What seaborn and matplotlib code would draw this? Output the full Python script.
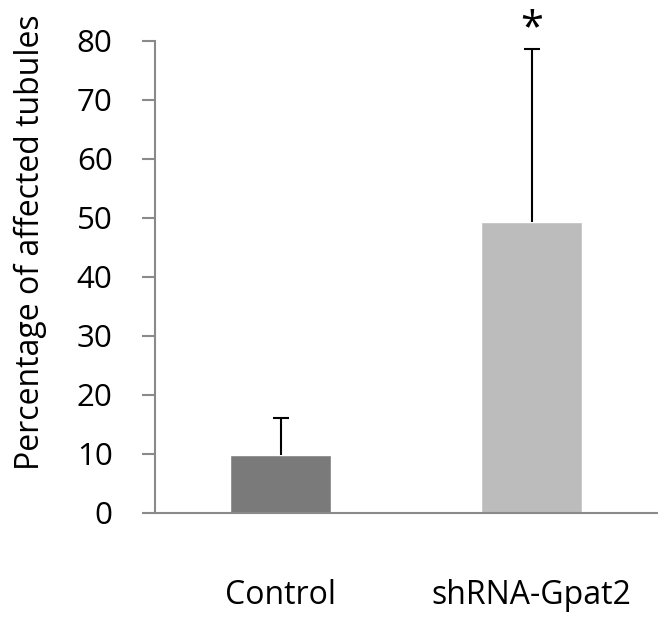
import matplotlib
matplotlib.use("Agg")
import matplotlib.pyplot as plt
import seaborn as sns
import numpy as np
import pandas as pd

categories = ["Control", "shRNA-Gpat2"]
means = [9.7, 49.2]
upper_err = [6.4, 29.3]
bar_colors = ["#7a7a7a", "#bcbcbc"]
y_ticks = [0, 10, 20, 30, 40, 50, 60, 70, 80]
y_label = "Percentage of affected tubules"
sig_marks = ["", "*"]

sns.set_theme(style="white")
plt.rcParams['font.family'] = ['Open Sans', 'DejaVu Sans']
plt.rcParams['text.color'] = 'black'
plt.rcParams['axes.labelcolor'] = 'black'
plt.rcParams['xtick.color'] = 'black'
plt.rcParams['ytick.color'] = 'black'

fig = plt.figure(figsize=(6.58, 6.22), dpi=100)
ax = fig.add_axes([0.2356, 0.1757, 0.763, 0.759])

df = pd.DataFrame({"group": categories, "value": means})
sns.barplot(data=df, x="group", y="value", hue="group", palette=bar_colors,
            width=0.4, ax=ax, legend=False, saturation=1, errorbar=None)

x = np.arange(len(categories))
m = np.array(means)
e = np.array(upper_err)
ax.vlines(x, m, m + e, color="black", linewidth=1.5, zorder=3)
ax.plot(x, m + e, marker="_", markersize=11.5, markeredgewidth=1.5,
        color="black", linestyle="none", zorder=3, clip_on=False)

for xi, top, s in zip(x, m + e, sig_marks):
    if s:
        ax.text(xi, 81.9, s, ha="center", va="center", fontsize=30,
                color="black", clip_on=False)

ax.set_ylim(0, 80)
ax.set_xlim(-0.5, 1.5)
ax.set_yticks(y_ticks)
ax.set_yticklabels([str(t) for t in y_ticks], fontsize=22.5)
ax.set_xticks(x)
ax.set_xticklabels(categories, fontsize=23)
ax.set_xticks([-0.5, 0.5], minor=True)
ax.tick_params(axis="x", which="major", length=0, pad=48)
ax.tick_params(axis="x", which="minor", length=9.5, width=1.5, color="#8a8a8a", direction="out")
ax.tick_params(axis="y", which="major", length=9.5, width=1.5, color="#8a8a8a",
               direction="out", pad=21, left=True, labelcolor="black")
ax.tick_params(axis="x", labelcolor="black")
ax.set_xlabel("")
ax.set_ylabel(y_label, fontsize=23, color="black")
ax.yaxis.set_label_coords(-0.215, 0.573)

for side in ["top", "right"]:
    ax.spines[side].set_visible(False)
for side in ["left", "bottom"]:
    ax.spines[side].set_color("#8a8a8a")
    ax.spines[side].set_linewidth(1.5)

fig.savefig("out.png", dpi=100, facecolor="white")
